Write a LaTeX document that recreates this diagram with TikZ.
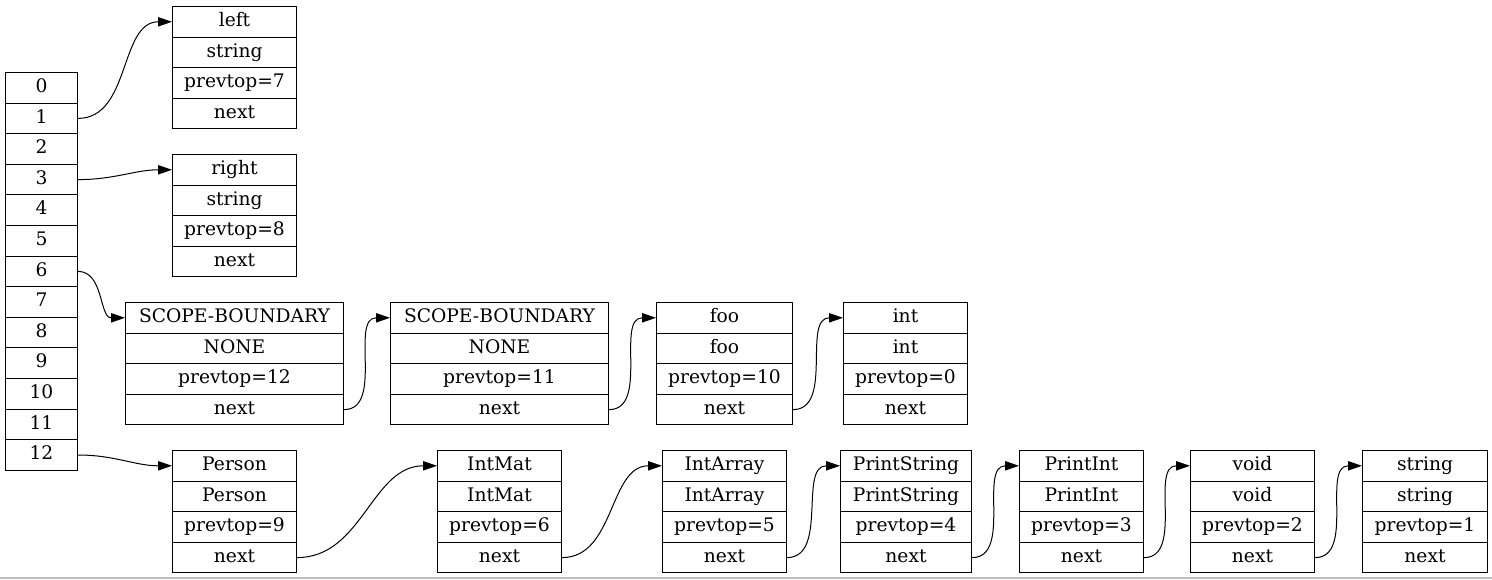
\documentclass[tikz,border=0pt]{standalone}
\usepackage{fontspec}
\setmainfont{DejaVu Serif}
\usepackage{tikz}
\usetikzlibrary{arrows.meta}

\begin{document}
\begin{tikzpicture}[x=0.75pt,y=-0.75pt,
  field/.style={draw,line width=0.75pt,inner sep=0pt,anchor=north west,
    minimum height=22.95pt,text height=10pt,text depth=3pt,
    font=\fontsize{14}{16}\selectfont},
  link/.style={-{Triangle[length=10.5pt,width=7pt]},line width=0.75pt,out=0,in=180}]
  \useasboundingbox (0,0) rectangle (1492,579);
  \def\rh{30.6}
  % scope stack
  \foreach \i in {0,...,12}{
    \node[field,minimum width=54pt] (a\i) at (5,{72+\i*\rh}) {\i};
  }
  % symbol records
  \foreach \nm/\x/\y/\w/\a/\b/\p in {
      lft/172/6/124/left/string/7,
      rgt/172/154/124/right/string/8,
      sb1/125/302/218/SCOPE-BOUNDARY/NONE/12,
      sb2/390/302/218/SCOPE-BOUNDARY/NONE/11,
      foo/656/302/136/foo/foo/10,
      int/843/302/124/int/int/0,
      person/172/450/124/Person/Person/9,
      intmat/437/450/124/IntMat/IntMat/6,
      intarray/662/450/124/IntArray/IntArray/5,
      printstring/840/450/131/PrintString/PrintString/4,
      printint/1019/450/124/PrintInt/PrintInt/3,
      void/1190/450/124/void/void/2,
      string/1362/450/125/string/string/1}{
    \foreach \i/\t in {0/\a,1/\b,2/prevtop=\p,3/next}{
      \node[field,minimum width={\w*0.75pt}] (\nm-\i) at (\x,{\y+\i*\rh}) {\t};
    }
  }
  % stack to records
  \draw[link] (a1.east) to (lft-0.west);
  \draw[link] (a3.east) to (rgt-0.west);
  \draw[link] (a6.east) to (sb1-0.west);
  \draw[link] (a12.east) to (person-0.west);
  % next chains
  \draw[link] (sb1-3.east) to (sb2-0.west);
  \draw[link] (sb2-3.east) to (foo-0.west);
  \draw[link] (foo-3.east) to (int-0.west);
  \draw[link] (person-3.east) to (intmat-0.west);
  \draw[link] (intmat-3.east) to (intarray-0.west);
  \draw[link] (intarray-3.east) to (printstring-0.west);
  \draw[link] (printstring-3.east) to (printint-0.west);
  \draw[link] (printint-3.east) to (void-0.west);
  \draw[link] (void-3.east) to (string-0.west);
  \draw[gray!50,line width=1.5pt] (0,578) -- (1492,578);
\end{tikzpicture}
\end{document}
